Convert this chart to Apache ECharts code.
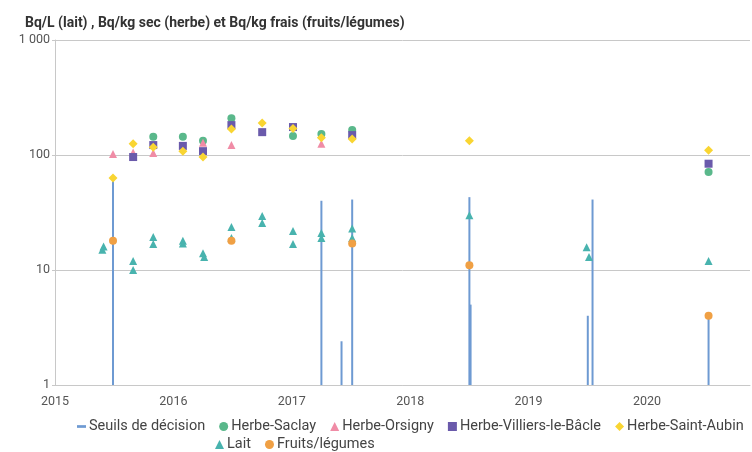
<!DOCTYPE html>
<html>
<head>
<meta charset="utf-8">
<title>Bq chart</title>
<script src="https://cdn.jsdelivr.net/npm/echarts@6/dist/echarts.min.js"></script>
<style>
  html, body { margin: 0; background: #fff; }
  #main { width: 752px; height: 452px; }
</style>
</head>
<body>
<div id="main"></div>
<script>
// data: [decimal year, value]
var seuils = [[2015.49, 62], [2017.25, 40], [2017.42, 2.4], [2017.51, 41], [2018.50, 43], [2018.51, 5],
  [2019.50, 4], [2019.54, 41], [2020.52, 3.9]];
var saclay = [[2015.83, 144], [2016.08, 144], [2016.25, 133], [2016.49, 209], [2017.01, 146],
  [2017.25, 152], [2017.51, 165], [2020.52, 71]];
var orsigny = [[2015.49, 102], [2015.66, 105], [2015.83, 104], [2016.25, 128], [2016.49, 122], [2017.25, 125]];
var villiers = [[2015.66, 96], [2015.83, 122], [2016.08, 120], [2016.25, 108], [2016.49, 182],
  [2016.75, 158], [2017.01, 175], [2017.51, 149], [2020.52, 84]];
var saintAubin = [[2015.49, 63], [2015.66, 125], [2015.83, 117], [2016.08, 108], [2016.25, 96],
  [2016.49, 168], [2016.75, 190], [2017.01, 170], [2017.25, 141], [2017.51, 138], [2018.50, 133], [2020.52, 110]];
var lait = [[2015.41, 16], [2015.40, 15], [2015.66, 12], [2015.66, 10], [2015.83, 19.4], [2015.83, 16.8],
  [2016.08, 18], [2016.08, 17], [2016.25, 14], [2016.26, 13], [2016.49, 23.6], [2016.49, 19],
  [2016.75, 29.5], [2016.75, 25.6], [2017.01, 21.8], [2017.01, 16.8], [2017.25, 21], [2017.25, 19],
  [2017.51, 23], [2017.51, 19], [2018.50, 30], [2019.49, 15.8], [2019.51, 13], [2020.52, 12]];
var fruits = [[2015.49, 18], [2016.49, 18], [2017.51, 17], [2018.50, 11], [2020.52, 4]];
var yearTicks = [2015, 2016, 2017, 2018, 2019, 2020];

var chart = echarts.init(document.getElementById('main'));
var font = 'Roboto';

function scatter(name, data, symbol, color, size) {
  return {
    name: name, type: 'scatter', data: data, symbol: symbol, symbolSize: size,
    itemStyle: { color: color, opacity: 1 }
  };
}

var legendBase = {
  itemWidth: 9, itemHeight: 9, itemGap: 14,
  textStyle: { fontSize: 14.5, color: '#444', padding: [0, 0, 0, -2] }
};

var option = {
  animation: false,
  textStyle: { fontFamily: font },
  title: {
    text: 'Bq/L (lait) , Bq/kg sec (herbe) et Bq/kg frais (fruits/légumes)',
    left: 20, top: 11,
    textStyle: { fontSize: 14, fontWeight: 'bold', color: '#333', fontFamily: font }
  },
  grid: { left: 55, right: 2, top: 40, bottom: 67, containLabel: false },
  legend: [
    Object.assign({}, legendBase, {
      left: 72, top: 414,
      data: [
        { name: 'Seuils de décision', icon: 'path://M0,3H10V6H0Z' },
        { name: 'Herbe-Saclay', icon: 'circle' },
        { name: 'Herbe-Orsigny', icon: 'triangle' },
        { name: 'Herbe-Villiers-le-Bâcle', icon: 'rect' },
        { name: 'Herbe-Saint-Aubin', icon: 'diamond' }
      ]
    }),
    Object.assign({}, legendBase, {
      left: 210, top: 432,
      data: [
        { name: 'Lait', icon: 'triangle' },
        { name: 'Fruits/légumes', icon: 'circle' }
      ]
    })
  ],
  xAxis: {
    type: 'value', min: 2015, max: 2020.87, interval: 1,
    axisLine: { show: true, lineStyle: { color: '#c8c8c8' } },
    axisTick: { show: false },
    splitLine: { show: false },
    axisLabel: {
      color: '#555', fontSize: 12.5, margin: 10, showMaxLabel: false,
      formatter: function (v) { return yearTicks.indexOf(v) >= 0 ? String(v) : ''; }
    }
  },
  yAxis: {
    type: 'log', logBase: 10, min: 1, max: 1000,
    axisLine: { show: true, lineStyle: { color: '#c8c8c8' } },
    axisTick: { show: true, length: 3, lineStyle: { color: '#c8c8c8' } },
    splitLine: { show: true, lineStyle: { color: '#c8c8c8' } },
    axisLabel: {
      color: '#555', fontSize: 12.5, margin: 5,
      formatter: function (v) { return v === 1000 ? '1 000' : String(v); }
    }
  },
  series: [
    {
      name: 'Seuils de décision', type: 'custom', data: seuils,
      itemStyle: { color: '#6e9ad2' },
      encode: { x: 0, y: 1 },
      renderItem: function (params, api) {
        var bottom = api.coord([api.value(0), 1]);
        var top = api.coord([api.value(0), api.value(1)]);
        return {
          type: 'line',
          shape: { x1: bottom[0], y1: bottom[1], x2: top[0], y2: top[1] },
          style: { stroke: '#6e9ad2', lineWidth: 2 }
        };
      }
    },
    scatter('Herbe-Saclay', saclay, 'circle', '#5ab88b', 8),
    scatter('Herbe-Orsigny', orsigny, 'triangle', '#f08ca6', 8),
    scatter('Herbe-Villiers-le-Bâcle', villiers, 'rect', '#6a5aab', 8),
    scatter('Herbe-Saint-Aubin', saintAubin, 'diamond', '#f9d532', 9),
    scatter('Lait', lait, 'triangle', '#48b3ae', 8),
    scatter('Fruits/légumes', fruits, 'circle', '#f0a044', 8)
  ]
};
chart.setOption(option);
</script>
</body>
</html>
